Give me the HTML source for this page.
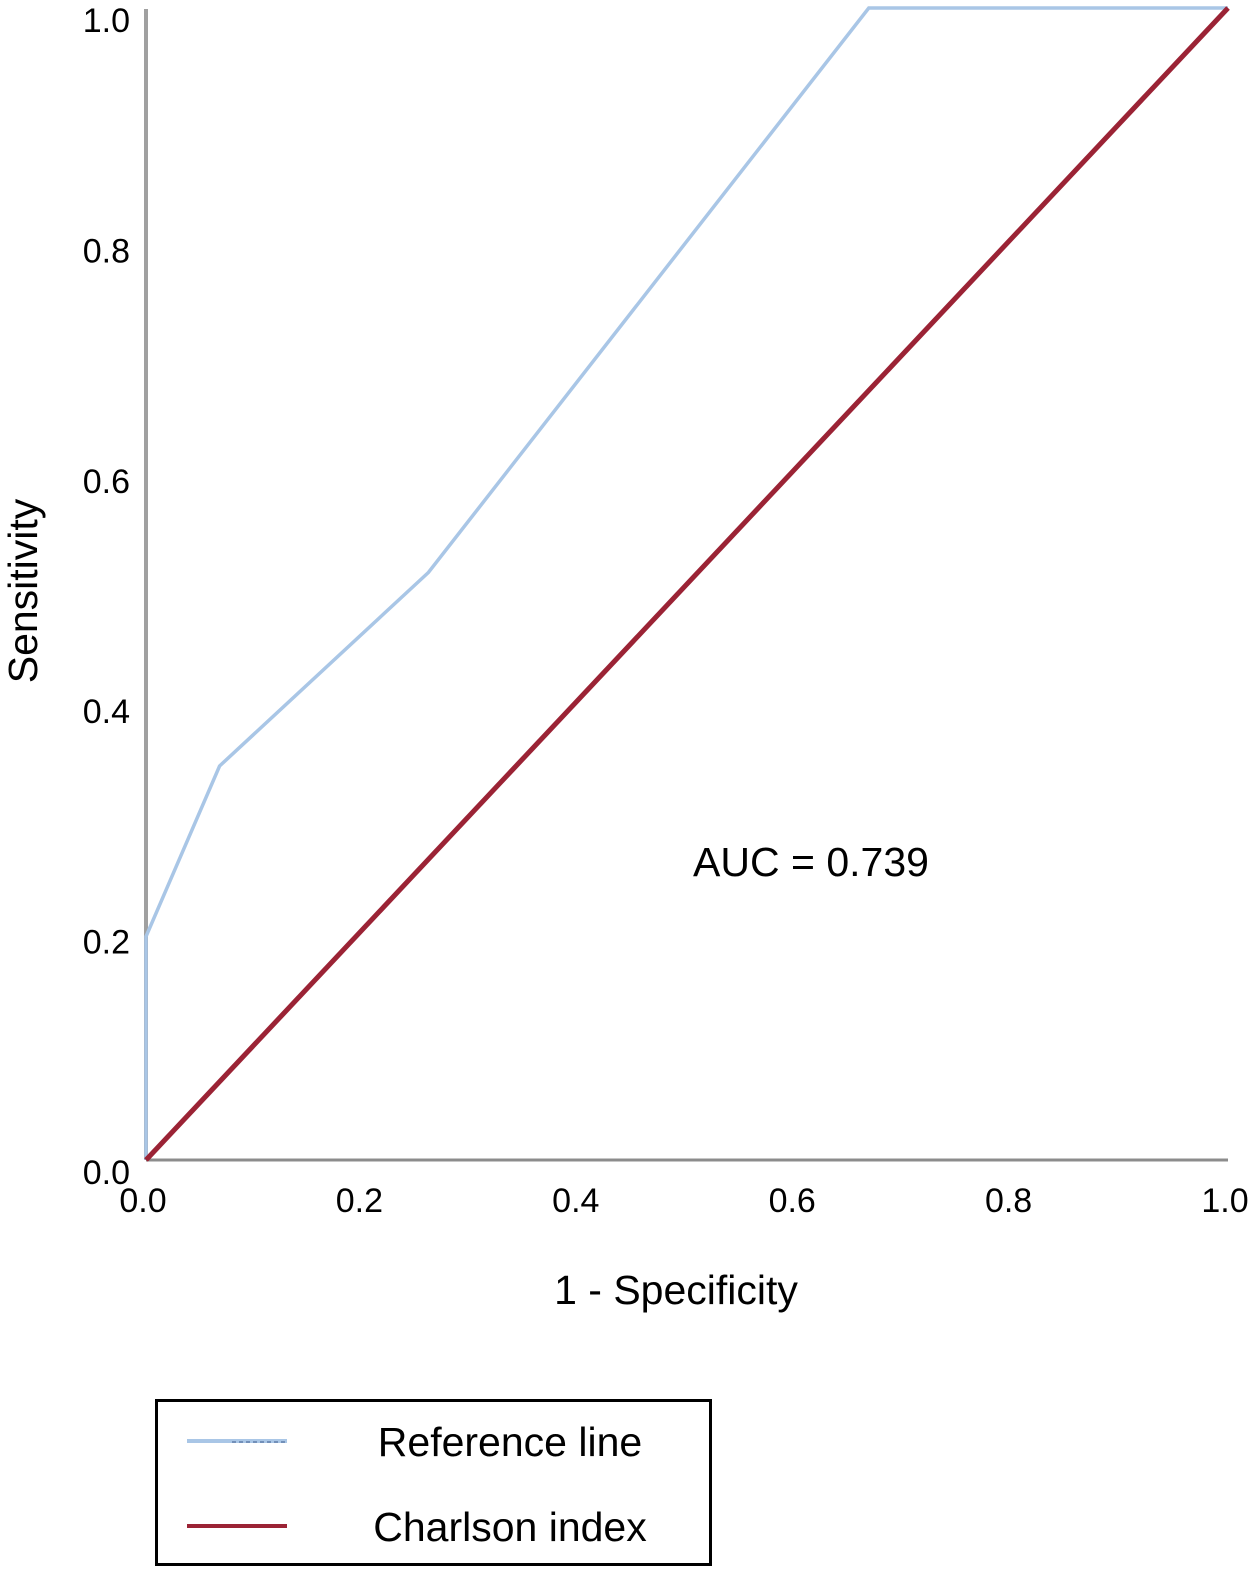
<!DOCTYPE html>
<html><head><meta charset="utf-8"><style>
html,body{margin:0;padding:0;background:#fff;}
svg{display:block;font-family:"Liberation Sans",Arial,sans-serif;}
</style></head><body>
<svg id="chart" width="1258" height="1577" viewBox="0 0 1258 1577">
<g id="axes"></g>
<g id="marks"></g>
<text x="811" y="876" font-size="41" text-anchor="middle">AUC = 0.739</text>
<text x="676" y="1304" font-size="41" text-anchor="middle">1 - Specificity</text>
<text transform="translate(37,591) rotate(-90)" font-size="41" text-anchor="middle">Sensitivity</text>
<g>
<rect x="156.5" y="1400.5" width="554" height="164" fill="none" stroke="#000" stroke-width="3"/>
<g>
<line x1="187" y1="1441" x2="287" y2="1441" stroke="#a9c6e6" stroke-width="4"/>
<line x1="232" y1="1442" x2="287" y2="1442" stroke="#3b5a8c" stroke-width="1" stroke-dasharray="4,3"/>
<text x="510" y="1456" font-size="41" text-anchor="middle">Reference line</text>
</g>
<g>
<line x1="187" y1="1526" x2="287" y2="1526" stroke="#9b2335" stroke-width="4"/>
<text x="510" y="1541" font-size="41" text-anchor="middle">Charlson index</text>
</g>
</g>
</svg>
<script>
const rocFpr = [0, 0, 0.068, 0.261, 0.668, 1];
const rocTpr = [0, 0.194, 0.342, 0.51, 1, 1];
const diagX = [0, 1];
const diagY = [0, 1];
const xTickLabels = ["0.0","0.2","0.4","0.6","0.8","1.0"];
const yTickLabels = ["0.0","0.2","0.4","0.6","0.8","1.0"];

const X0=146, X1=1228, Y0=1160, Y1=8;
const sx = v => X0 + v*(X1-X0);
const sy = v => Y0 - v*(Y0-Y1);
const NS="http://www.w3.org/2000/svg";
const axes=document.getElementById('axes'), marks=document.getElementById('marks');
function mk(tag, attrs, parent){const e=document.createElementNS(NS,tag);for(const k in attrs)e.setAttribute(k,attrs[k]);parent.appendChild(e);return e;}

const ya=mk('line',{x1:X0,y1:Y1+1,x2:X0,y2:Y0,stroke:'#a0a0a0','stroke-width':4},axes);


const xa=mk('line',{x1:X0,y1:Y0,x2:X1,y2:Y0,stroke:'#8c8c8c','stroke-width':3},axes);



xTickLabels.forEach((t,i)=>{
  const v=parseFloat(t);
  const e=mk('text',{x:sx(v)-3,y:1212,'font-size':34,'text-anchor':'middle'},axes);
  e.textContent=t;
  
  
});
yTickLabels.forEach((t,i)=>{
  const v=parseFloat(t);
  const e=mk('text',{x:130,y:sy(v)+24,'font-size':34,'text-anchor':'end'},axes);
  e.textContent=t;
  
  
});

const rp=mk('polyline',{points:rocFpr.map((f,i)=>sx(f)+','+sy(rocTpr[i])).join(' '),fill:'none',stroke:'#a9c6e6','stroke-width':3.5},marks);


const dp=mk('polyline',{points:diagX.map((f,i)=>sx(f)+','+sy(diagY[i])).join(' '),fill:'none',stroke:'#9b2335','stroke-width':5},marks);


</script>
</body></html>
